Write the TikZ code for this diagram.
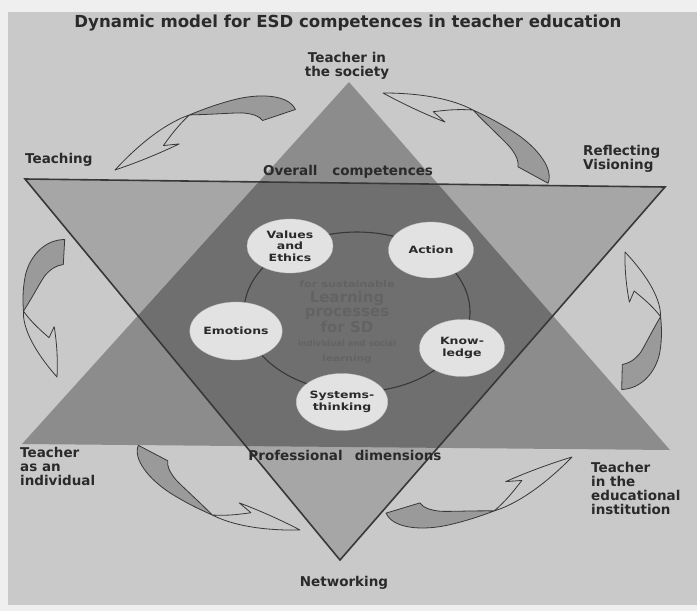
\documentclass[tikz,border=0pt]{standalone}
\usepackage{fontspec}
\usepackage{graphicx}
\usetikzlibrary{shapes.geometric}
\newfontfamily\titf{DejaVu Sans}
\newfontfamily\labf{DejaVu Sans}
\newfontfamily\ellf[FakeStretch=1.25]{DejaVu Sans}
\definecolor{pagec}{HTML}{EFEFEF}
\definecolor{panel}{HTML}{C9C9C9}
\definecolor{upc}{HTML}{8C8C8C}
\definecolor{downc}{HTML}{A6A6A6}
\definecolor{ovc}{HTML}{6F6F6F}
\definecolor{ellc}{HTML}{E2E2E2}
\definecolor{txtc}{HTML}{2A2A2A}
\definecolor{linec}{HTML}{383838}
\definecolor{arrsh}{HTML}{9A9A9A}
\definecolor{ctext}{HTML}{636363}
\newcommand{\crvarrow}{%
  \filldraw[arrshade] (-0.10,0) .. controls (-0.09,0.09) and (0.05,0.15) .. (0.20,0.165)
     .. controls (0.32,0.175) and (0.42,0.17) .. (0.49,0.165)
     .. controls (0.38,0.13) and (0.26,0.10) .. (0.20,0.08)
     .. controls (0.14,0.055) and (0.11,0.03) .. (0.10,0) -- cycle;
  \filldraw[arrfront] (0.49,0.165) .. controls (0.62,0.165) and (0.80,0.11) .. (1,0)
     .. controls (0.86,0.0) and (0.72,0.01) .. (0.60,0.025) -- (0.69,0.045)
     .. controls (0.64,0.08) and (0.58,0.125) .. (0.49,0.165) -- cycle;
}
\begin{document}
\begin{tikzpicture}[x=1pt,y=-1pt,
  lab/.style={font=\labf\bfseries\fontsize{13.5}{13.7}\selectfont, text=txtc, inner sep=0pt},
  ell/.style={ellipse, fill=ellc, draw=ellc!85!black, line width=0.3pt, inner sep=0pt,
     font=\ellf\bfseries\fontsize{10}{11.5}\selectfont, text=txtc, align=center},
  arrshade/.style={fill=arrsh, draw=linec, line width=0.8pt, line join=round},
  arrfront/.style={fill=panel, draw=linec, line width=0.8pt, line join=round}]
\useasboundingbox (0,0) rectangle (697,611);
\fill[pagec] (0,0) rectangle (697,611);
\fill[panel] (8,12) rectangle (697,605);
% triangles
\coordinate (UA) at (349,82);
\coordinate (UL) at (22,444);
\coordinate (UR) at (670,450);
\coordinate (DL) at (25,179);
\coordinate (DR) at (665,187);
\coordinate (DB) at (340,560);
\fill[upc] (UA) -- (UL) -- (UR) -- cycle;
\fill[downc] (DL) -- (DR) -- (DB) -- cycle;
\begin{scope}
  \clip (UA) -- (UL) -- (UR) -- cycle;
  \fill[ovc] (DL) -- (DR) -- (DB) -- cycle;
\end{scope}
\draw[linec, line width=1.6pt] (DL) -- (DR) -- (DB) -- cycle;
% curved arrows
\begin{scope}[shift={(279,115)}, x={(-164pt,-55pt)}, y={(-55pt,164pt)}]\crvarrow\end{scope}
\begin{scope}[shift={(533,175)}, x={(-150pt,82pt)}, y={(82pt,150pt)}]\crvarrow\end{scope}
\begin{scope}[shift={(64,252)}, x={(-7pt,-125pt)}, y={(-225pt,12.6pt)}]\crvarrow\end{scope}
\begin{scope}[shift={(153,453)}, x={(147pt,-77pt)}, y={(-77pt,-147pt)}]\crvarrow\end{scope}
\begin{scope}[shift={(403,508)}, x={(169pt,51pt)}, y={(51pt,-169pt)}]\crvarrow\end{scope}
\begin{scope}[shift={(622,377)}, x={(3pt,125pt)}, y={(225pt,-5.4pt)}]\crvarrow\end{scope}
% ring
\draw[linec, line width=1.1pt] (357,312) ellipse [x radius=113, y radius=80];
% centre text
\node[align=center, text=ctext, inner sep=0pt, font=\titf\bfseries\fontsize{15}{14.5}\selectfont] (lp) at (347,322)
  {{\ellf\bfseries\fontsize{9}{14.5}\selectfont for sustainable}\\Learning\\processes\\for SD\\
   {\fontsize{8.5}{14.5}\selectfont individual and social}\\{\ellf\bfseries\fontsize{8.5}{14.5}\selectfont learning}};
% ellipses
\node[ell, minimum width=86pt, minimum height=54pt] (vals) at (290,246) {Values\\and\\Ethics};
\node[ell, minimum width=85pt, minimum height=56pt] (act) at (431,250) {Action};
\node[ell, minimum width=78pt, minimum height=58pt] (emo) at (236,331) {Emotions};
\node[ell, minimum width=85pt, minimum height=57pt] (know) at (462,348) {Know-\\ledge};
\node[ell, minimum width=83pt, minimum height=57pt] (sys) at (342,402) {Systems-\\thinking};
% labels
\node[anchor=base, inner sep=0pt, text=txtc] (title) at (348,27)
  {\resizebox{547pt}{!}{\titf\bfseries Dynamic model for ESD competences in teacher education}};
\node[lab, align=center, anchor=north] (soc) at (347,52.5) {Teacher in\\the society};
\node[lab, anchor=base west] (teach) at (25,163) {Teaching};
\node[lab, anchor=base] (overall) at (348,175) {Overall\hspace{1.1em}competences};
\node[lab, align=left, anchor=north west] (refl) at (583,145.5) {Reflecting\\Visioning};
\node[lab, align=left, anchor=north west] (indiv) at (20,447.5) {Teacher\\as an\\individual};
\node[lab, anchor=base] (prof) at (345,460) {Professional\hspace{0.9em}dimensions};
\node[lab, align=left, anchor=north west] (inst) at (591,462.5) {Teacher\\in the\\educational\\institution};
\node[lab, anchor=base] (net) at (344,586) {Networking};
\end{tikzpicture}
\end{document}
